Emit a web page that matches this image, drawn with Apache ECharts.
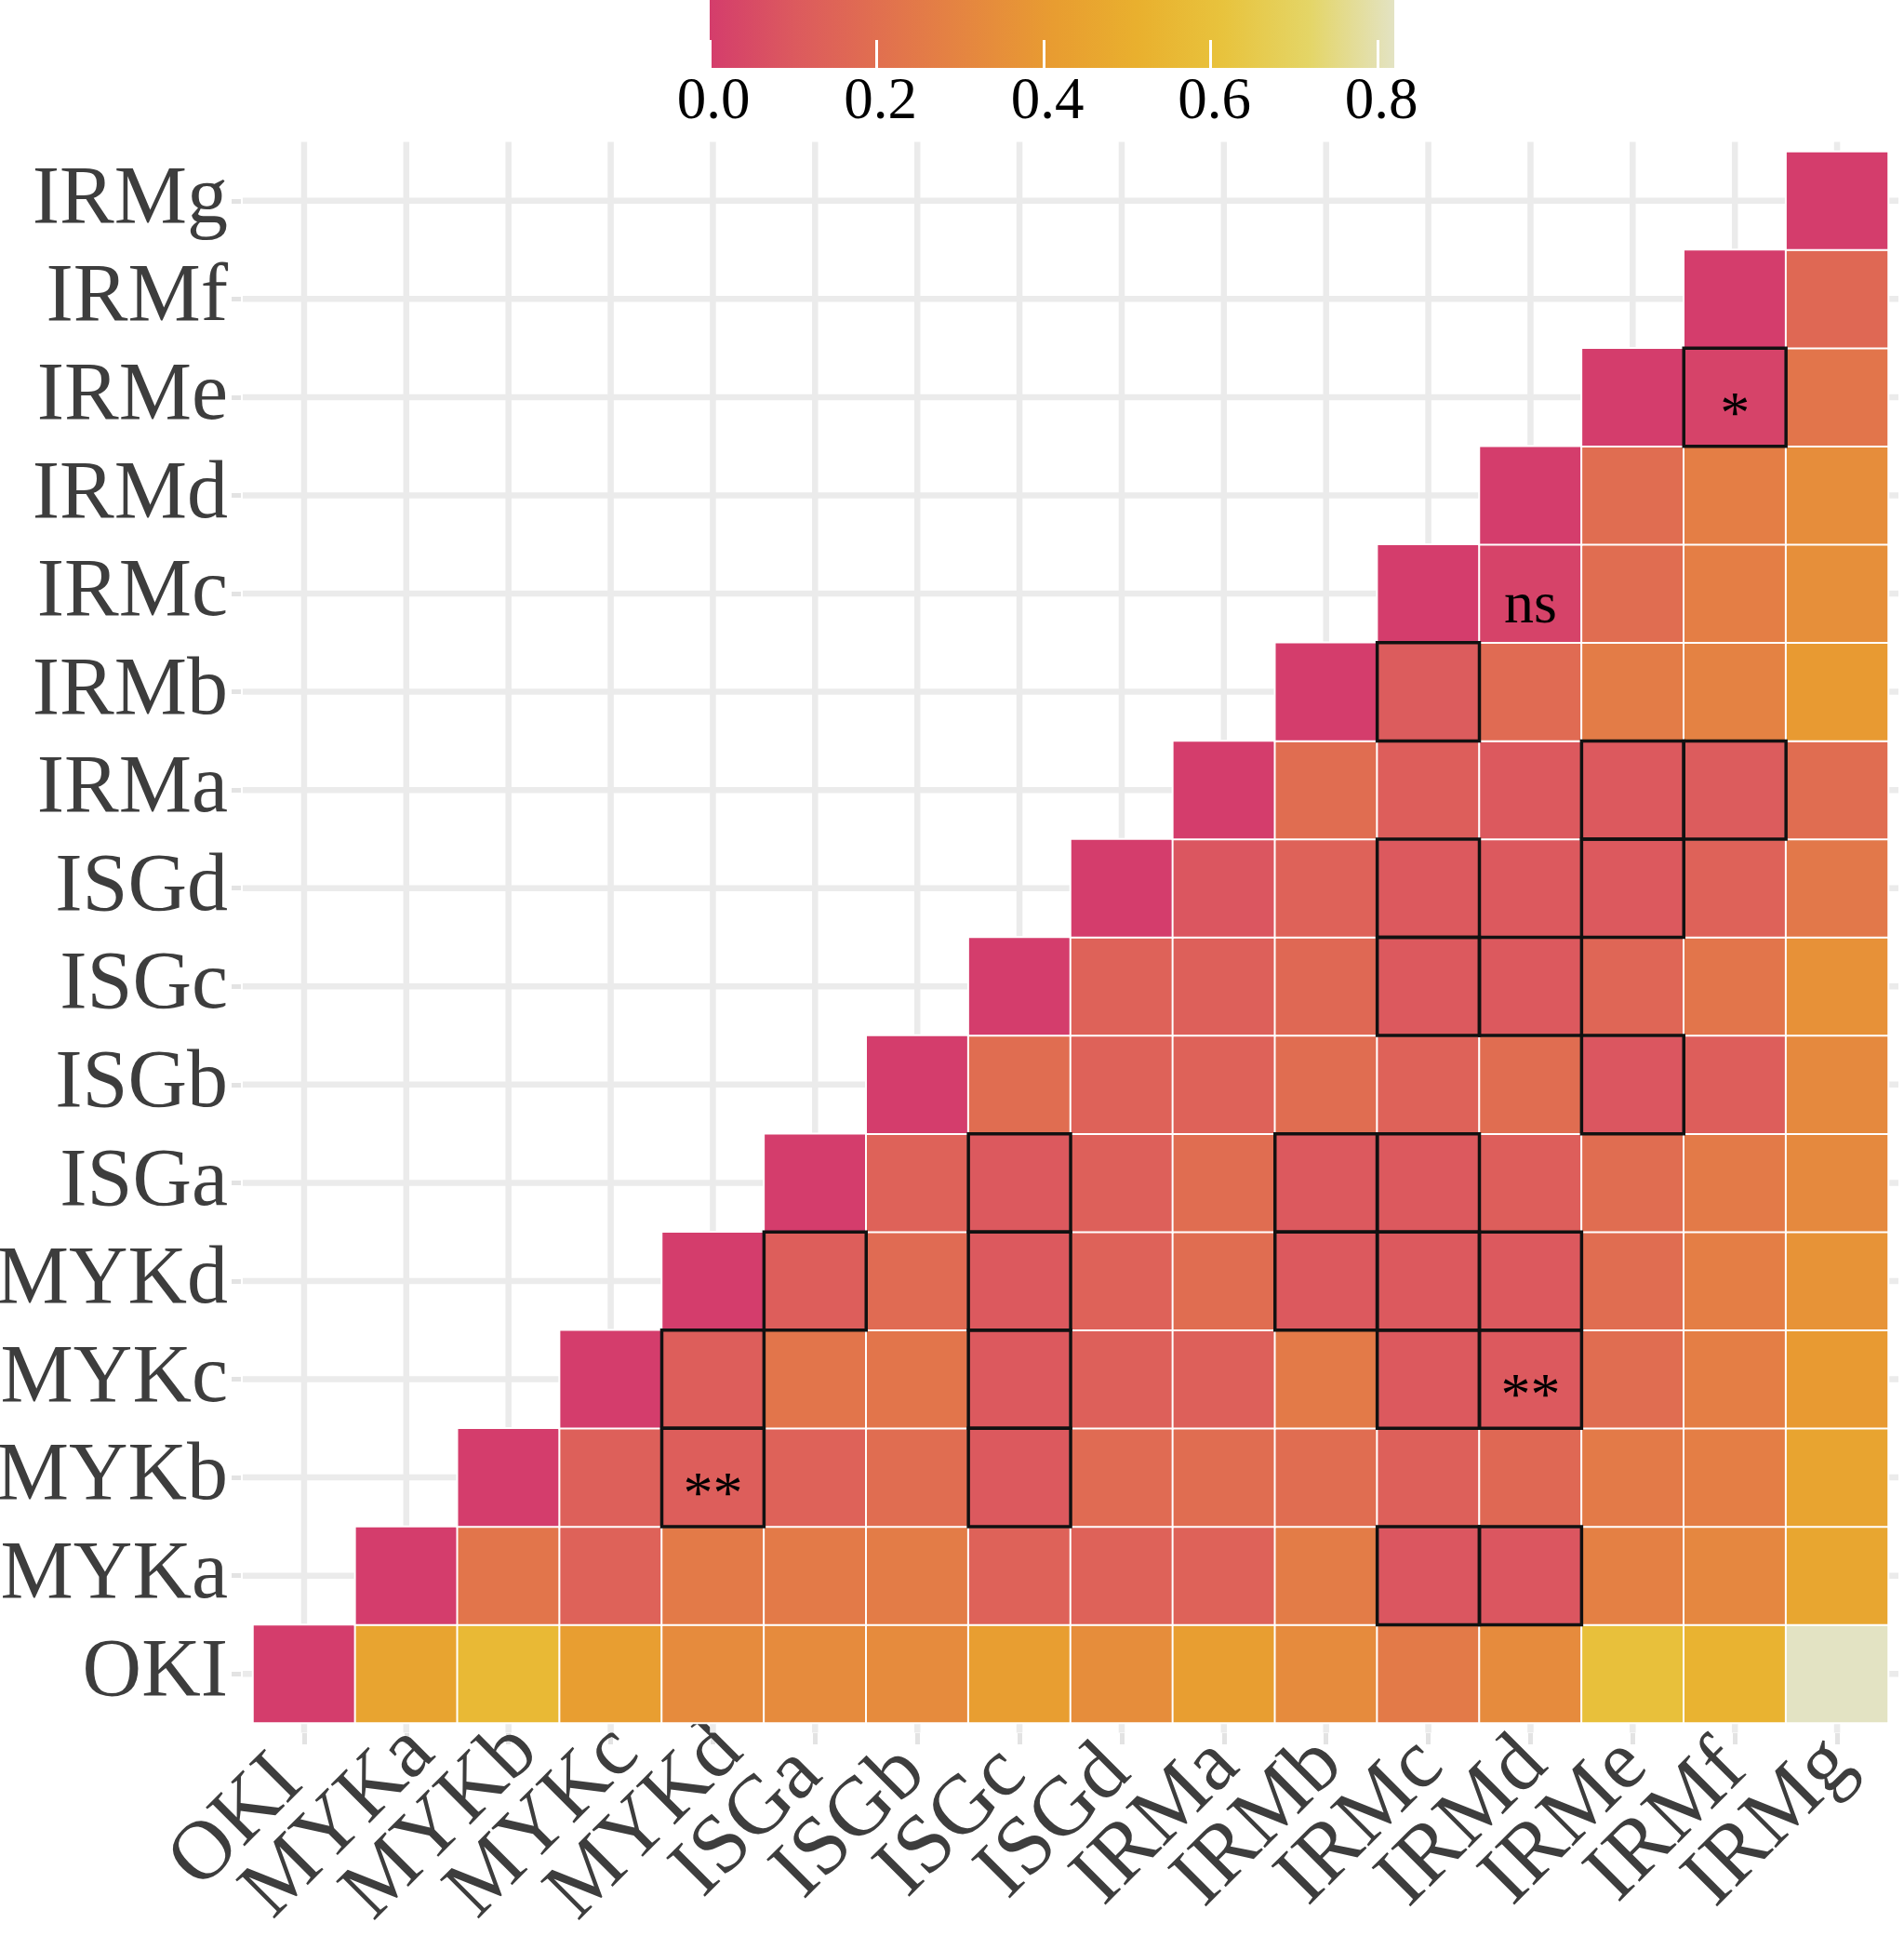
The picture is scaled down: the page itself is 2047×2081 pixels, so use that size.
<!DOCTYPE html>
<html>
<head>
<meta charset="utf-8">
<script src="https://cdn.jsdelivr.net/npm/echarts@6/dist/echarts.min.js"></script>
<style>
html, body { margin: 0; padding: 0; background: #fff; }
#container { width: 2047px; height: 2081px; }
</style>
</head>
<body>
<div id="container"></div>
<script>
var cats = ['OKI', 'MYKa', 'MYKb', 'MYKc', 'MYKd', 'ISGa', 'ISGb', 'ISGc', 'ISGd', 'IRMa', 'IRMb', 'IRMc', 'IRMd', 'IRMe', 'IRMf', 'IRMg'];

// one array per row, starting at the diagonal cell and going right
var rowOKI  = [0, 0.45, 0.56, 0.42, 0.33, 0.33, 0.33, 0.42, 0.34, 0.42, 0.33, 0.25, 0.33, 0.60, 0.53, 0.82];
var rowMYKa = [0, 0.23, 0.14, 0.25, 0.25, 0.26, 0.14, 0.14, 0.14, 0.26, 0.09, 0.09, 0.28, 0.31, 0.46];
var rowMYKb = [0, 0.13, 0.12, 0.14, 0.19, 0.10, 0.18, 0.19, 0.19, 0.13, 0.17, 0.25, 0.27, 0.45];
var rowMYKc = [0, 0.12, 0.23, 0.23, 0.10, 0.13, 0.13, 0.25, 0.10, 0.10, 0.19, 0.27, 0.40];
var rowMYKd = [0, 0.12, 0.18, 0.10, 0.14, 0.19, 0.10, 0.10, 0.10, 0.19, 0.27, 0.37];
var rowISGa = [0, 0.14, 0.10, 0.13, 0.19, 0.10, 0.10, 0.12, 0.19, 0.25, 0.32];
var rowISGb = [0, 0.19, 0.14, 0.14, 0.19, 0.14, 0.19, 0.09, 0.12, 0.32];
var rowISGc = [0, 0.14, 0.13, 0.17, 0.10, 0.10, 0.16, 0.23, 0.36];
var rowISGd = [0, 0.09, 0.14, 0.10, 0.10, 0.10, 0.14, 0.24];
var rowIRMa = [0, 0.19, 0.12, 0.10, 0.10, 0.11, 0.19];
var rowIRMb = [0, 0.11, 0.18, 0.26, 0.29, 0.40];
var rowIRMc = [0, 0.02, 0.19, 0.27, 0.35];
var rowIRMd = [0, 0.19, 0.27, 0.34];
var rowIRMe = [0, 0.02, 0.23];
var rowIRMf = [0, 0.17];
var rowIRMg = [0];
var rows = [rowOKI, rowMYKa, rowMYKb, rowMYKc, rowMYKd, rowISGa, rowISGb, rowISGc,
    rowISGd, rowIRMa, rowIRMb, rowIRMc, rowIRMd, rowIRMe, rowIRMf, rowIRMg];

// [column, row] of cells with a black outline
var boxedCells = [
    ['IRMf', 'IRMe'], ['IRMc', 'IRMb'], ['IRMe', 'IRMa'], ['IRMf', 'IRMa'],
    ['IRMc', 'ISGd'], ['IRMe', 'ISGd'], ['IRMc', 'ISGc'], ['IRMd', 'ISGc'],
    ['IRMe', 'ISGb'], ['ISGc', 'ISGa'], ['IRMb', 'ISGa'], ['IRMc', 'ISGa'],
    ['ISGa', 'MYKd'], ['ISGc', 'MYKd'], ['IRMb', 'MYKd'], ['IRMc', 'MYKd'], ['IRMd', 'MYKd'],
    ['MYKd', 'MYKc'], ['ISGc', 'MYKc'], ['IRMc', 'MYKc'], ['IRMd', 'MYKc'],
    ['MYKd', 'MYKb'], ['ISGc', 'MYKb'], ['IRMc', 'MYKa'], ['IRMd', 'MYKa']
];

// [column, row, text]
var cellMarks = [
    ['IRMf', 'IRMe', '*'],
    ['IRMd', 'IRMc', 'ns'],
    ['MYKd', 'MYKb', '**'],
    ['IRMd', 'MYKc', '**']
];

var scaleMax = 0.82;
var palette = ['#d43d6c', '#dc5a5e', '#e1704f', '#e58640', '#e89c31', '#e9b02e', '#e8c33d', '#e4d566', '#e3e3c3'];

var serif = '"Liberation Serif", "Times New Roman", serif';

function heatData() {
    var obj = [];
    for (var i = 0; i < rows.length; i++) {
        for (var k = 0; k < rows[i].length; k++) {
            obj.push([cats[i + k], cats[i], rows[i][k]]);
        }
    }
    return obj;
}

function renderGrid(params, api) {
    var c = api.coord([api.value(0), api.value(1)]);
    var s = api.size([1, 1]);
    var cs = params.coordSys;
    var ex = s[0] * 0.1, ey = s[1] * 0.1;
    var st = { stroke: '#ebebeb', lineWidth: 6.5 };
    return {
        type: 'group',
        children: [
            { type: 'line', shape: { x1: c[0], y1: cs.y - ey, x2: c[0], y2: cs.y + cs.height + ey }, style: st },
            { type: 'line', shape: { x1: cs.x - ex, y1: c[1], x2: cs.x + cs.width + ex, y2: c[1] }, style: st }
        ]
    };
}

function renderBox(params, api) {
    var c = api.coord([api.value(0), api.value(1)]);
    var s = api.size([1, 1]);
    return {
        type: 'rect',
        shape: { x: c[0] - s[0] / 2, y: c[1] - s[1] / 2, width: s[0], height: s[1] },
        style: { fill: 'none', stroke: '#111', lineWidth: 3.5 }
    };
}

function renderMark(params, api) {
    var c = api.coord([api.value(0), api.value(1)]);
    var s = api.size([1, 1]);
    var txt = cellMarks[params.dataIndex][2];
    // asterisks sit high in the serif font, push them a bit lower
    var shift = txt.charAt(0) === '*' ? 0.2 : 0.13;
    return {
        type: 'text',
        x: c[0],
        y: c[1] + s[1] * shift,
        style: {
            text: txt,
            fontSize: 64,
            fontFamily: serif,
            fill: '#000',
            align: 'center',
            verticalAlign: 'middle'
        }
    };
}

function renderBar(params, api) {
    var p0 = api.coord([0, 1]);
    var p1 = api.coord([scaleMax, 0]);
    var stops = palette.map(function (c, i) {
        return { offset: i / (palette.length - 1), color: c };
    });
    return {
        type: 'rect',
        shape: { x: p0[0], y: p0[1], width: p1[0] - p0[0], height: p1[1] - p0[1] },
        style: { fill: new echarts.graphic.LinearGradient(0, 0, 1, 0, stops) }
    };
}

var dom = document.getElementById('container');
var myChart = echarts.init(dom, null, { renderer: 'canvas' });

var option = {
    backgroundColor: '#fff',
    animation: false,
    grid: [
        { left: 272, right: 17, top: 163, bottom: 229, containLabel: false, outerBoundsMode: 'none' },
        { left: 763, top: 0, width: 736, height: 73, containLabel: false, outerBoundsMode: 'none' }
    ],
    visualMap: {
        show: false,
        type: 'continuous',
        min: 0,
        max: scaleMax,
        seriesIndex: 1,
        inRange: { color: palette }
    },
    xAxis: [
        {
            type: 'category', data: cats, gridIndex: 0, offset: 11,
            axisLine: { show: false },
            axisTick: { show: true, interval: 0, alignWithLabel: true, length: 12, lineStyle: { color: '#e3e3e3', width: 5 } },
            axisLabel: {
                interval: 0, rotate: 45, fontSize: 90, fontFamily: serif, color: '#3d3d3d',
                margin: 168, align: 'center', verticalAlign: 'bottom', padding: [0, 0, 57, 0]
            },
            splitLine: { show: false }
        },
        {
            type: 'value', gridIndex: 1, min: 0, max: scaleMax, interval: 0.2, z: 10,
            axisLine: { show: false },
            axisTick: { show: true, inside: true, length: 30, lineStyle: { color: '#fff', width: 3 } },
            axisLabel: {
                fontSize: 63, fontFamily: serif, color: '#000', margin: 6, showMaxLabel: false,
                padding: [0, 0, 0, 8],
                formatter: function (v) { return v.toFixed(1); }
            },
            splitLine: { show: false }
        }
    ],
    yAxis: [
        {
            type: 'category', data: cats, gridIndex: 0, offset: 13,
            axisLine: { show: false },
            axisTick: { show: true, interval: 0, alignWithLabel: true, length: 10, lineStyle: { color: '#e3e3e3', width: 5 } },
            axisLabel: { interval: 0, fontSize: 88, fontFamily: serif, color: '#3d3d3d', margin: 14 },
            splitLine: { show: false }
        },
        { type: 'value', gridIndex: 1, min: 0, max: 1, show: false }
    ],
    series: [
        {
            name: 'gridlines', type: 'custom', xAxisIndex: 0, yAxisIndex: 0, z: 1, silent: true,
            data: cats.map(function (c) { return [c, c]; }),
            renderItem: renderGrid
        },
        {
            name: 'value', type: 'heatmap', xAxisIndex: 0, yAxisIndex: 0, z: 2,
            data: heatData(),
            itemStyle: { borderColor: '#fff', borderWidth: 2 },
            emphasis: { disabled: true },
            progressive: 0
        },
        {
            name: 'boxes', type: 'custom', xAxisIndex: 0, yAxisIndex: 0, z: 3, silent: true,
            data: boxedCells,
            renderItem: renderBox
        },
        {
            name: 'marks', type: 'custom', xAxisIndex: 0, yAxisIndex: 0, z: 4, silent: true,
            data: cellMarks.map(function (m) { return [m[0], m[1]]; }),
            renderItem: renderMark
        },
        {
            name: 'colorbar', type: 'custom', xAxisIndex: 1, yAxisIndex: 1, z: 1, silent: true,
            data: [[0, 1]],
            renderItem: renderBar
        }
    ]
};

myChart.setOption(option);
window.addEventListener('resize', myChart.resize);
</script>
</body>
</html>
